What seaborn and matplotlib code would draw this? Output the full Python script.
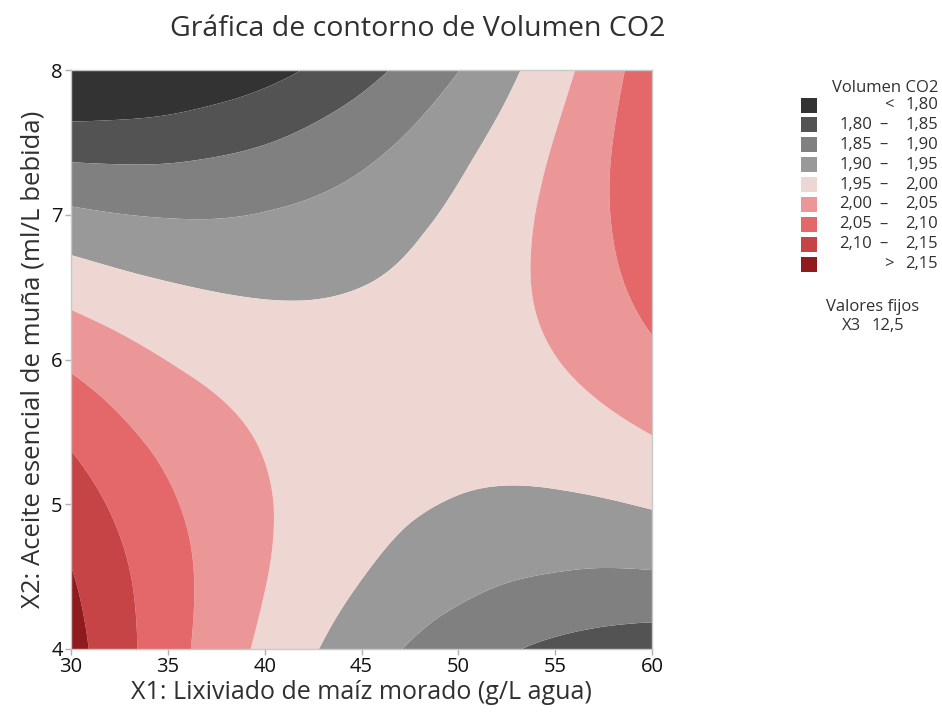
import numpy as np
import matplotlib
matplotlib.use("Agg")
import matplotlib.pyplot as plt
import matplotlib.tri as mtri
import seaborn as sns
from matplotlib.patches import Rectangle

# X1: lixiviado de maiz morado (g/L agua), X2: aceite esencial de muña (ml/L bebida)
x1_vals = [30, 32.5, 35, 37.5, 40, 42.5, 45, 47.5, 50, 52.5, 55, 57.5, 60]
x2_vals = [4, 4.5, 5, 5.5, 6, 6.5, 7, 7.5, 8]

# Volumen CO2, one row per X2 value (X3 fixed at 12,5)
co2_y40 = [2.169, 2.118, 2.071, 2.028, 1.989, 1.954, 1.923, 1.896, 1.873, 1.855, 1.840, 1.830, 1.823]
co2_y45 = [2.153, 2.110, 2.070, 2.034, 2.002, 1.974, 1.951, 1.931, 1.916, 1.904, 1.897, 1.893, 1.894]
co2_y50 = [2.127, 2.090, 2.057, 2.029, 2.004, 1.984, 1.967, 1.955, 1.947, 1.942, 1.942, 1.946, 1.954]
co2_y55 = [2.089, 2.059, 2.034, 2.013, 1.995, 1.982, 1.973, 1.967, 1.966, 1.969, 1.976, 1.987, 2.002]
co2_y60 = [2.040, 2.018, 1.999, 1.985, 1.975, 1.969, 1.967, 1.969, 1.975, 1.985, 1.999, 2.018, 2.040]
co2_y65 = [1.980, 1.965, 1.954, 1.947, 1.944, 1.945, 1.950, 1.959, 1.973, 1.990, 2.011, 2.037, 2.066]
co2_y70 = [1.909, 1.901, 1.897, 1.897, 1.902, 1.910, 1.922, 1.939, 1.959, 1.984, 2.012, 2.045, 2.082]
co2_y75 = [1.826, 1.826, 1.829, 1.837, 1.848, 1.864, 1.883, 1.907, 1.935, 1.966, 2.002, 2.042, 2.086]
co2_y80 = [1.733, 1.740, 1.750, 1.765, 1.783, 1.806, 1.833, 1.864, 1.899, 1.938, 1.981, 2.028, 2.079]

levels = [1.0, 1.80, 1.85, 1.90, 1.95, 2.00, 2.05, 2.10, 2.15, 3.0]
legend_left = ["", "1,80", "1,85", "1,90", "1,95", "2,00", "2,05", "2,10", ""]
legend_mid = ["<", "–", "–", "–", "–", "–", "–", "–", ">"]
legend_right = ["1,80", "1,85", "1,90", "1,95", "2,00", "2,05", "2,10", "2,15", "2,15"]
band_colors = sns.color_palette(["#333333", "#535353", "#808080", "#999999", "#eed7d2",
                                 "#ec9797", "#e4676a", "#c64446", "#8f1b1f"])

sns.set_style("white")
plt.rcParams["font.family"] = ["Open Sans", "DejaVu Sans"]
txt = "#303030"

Z = np.array([co2_y40, co2_y45, co2_y50, co2_y55, co2_y60, co2_y65, co2_y70, co2_y75, co2_y80])
X, Y = np.meshgrid(x1_vals, x2_vals)

# smooth the contour bands with matplotlib's own triangulation refiner
tri = mtri.Triangulation(X.ravel(), Y.ravel())
refiner = mtri.UniformTriRefiner(tri)
tri_f, z_f = refiner.refine_field(Z.ravel(), subdiv=4)

fig = plt.figure(figsize=(9.42, 7.13), dpi=100)
ax = fig.add_axes([71 / 942, 1 - 649 / 713, 581 / 942, 579 / 713])
ax.tricontourf(tri_f, z_f, levels=levels, colors=band_colors, antialiased=True)

ax.set_xlim(30, 60)
ax.set_ylim(4, 8)
ax.set_xticks([30, 35, 40, 45, 50, 55, 60])
ax.set_yticks([4, 5, 6, 7, 8])
ax.tick_params(axis="both", direction="out", length=4, width=1, color="#b0b0b0",
               labelsize=14.5, labelcolor="#111111", pad=2, left=True, bottom=True)
for s in ax.spines.values():
    s.set_color("#c8c8c8")
    s.set_linewidth(1)

ax.set_xlabel("X1: Lixiviado de maíz morado (g/L agua)", fontsize=18, color=txt, labelpad=2)
ax.set_ylabel("X2: Aceite esencial de muña (ml/L bebida)", fontsize=18.5, color=txt, labelpad=4)
fig.text(418 / 942, 1 - 29 / 713, "Gráfica de contorno de Volumen CO2", fontsize=20.5,
         color=txt, ha="center", va="center")

# legend built by hand, like the Minitab side panel
fs = 12
fig.text(938 / 942, 1 - 88 / 713, "Volumen CO2", fontsize=fs, color=txt, ha="right", va="center")
for i in range(9):
    yc = 105 + i * 19.9
    fig.patches.append(Rectangle((801 / 942, 1 - (yc + 7.5) / 713), 16 / 942, 15 / 713,
                                 transform=fig.transFigure, facecolor=band_colors[i],
                                 edgecolor="none"))
    yf = 1 - yc / 713
    if legend_left[i]:
        fig.text(872 / 942, yf, legend_left[i], fontsize=fs, color=txt, ha="right", va="center")
        fig.text(883 / 942, yf, legend_mid[i], fontsize=fs, color=txt, ha="center", va="center")
    else:
        fig.text(889 / 942, yf, legend_mid[i], fontsize=fs, color=txt, ha="center", va="center")
    fig.text(938 / 942, yf, legend_right[i], fontsize=fs, color=txt, ha="right", va="center")

fig.text(873 / 942, 1 - 307 / 713, "Valores fijos", fontsize=fs, color=txt, ha="center", va="center")
fig.text(842 / 942, 1 - 326 / 713, "X3", fontsize=fs, color=txt, ha="left", va="center")
fig.text(904 / 942, 1 - 326 / 713, "12,5", fontsize=fs, color=txt, ha="right", va="center")

fig.savefig("out.png", dpi=100)
